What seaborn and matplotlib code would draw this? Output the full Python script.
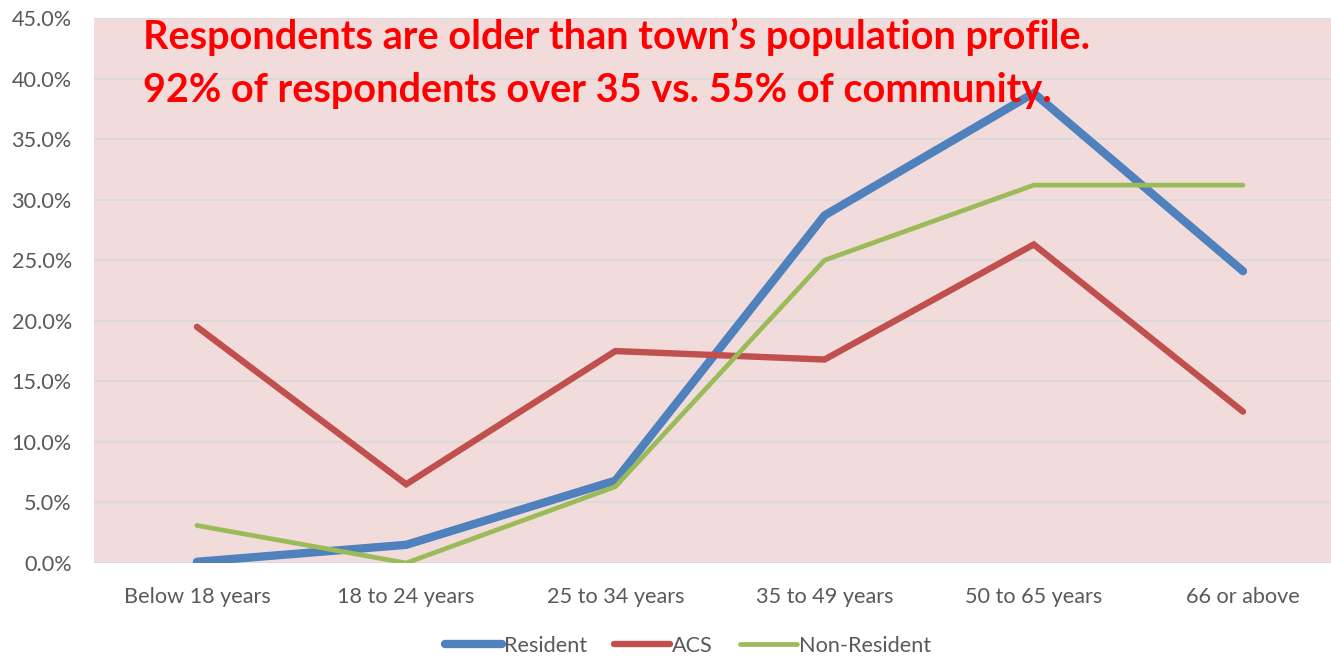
import matplotlib
matplotlib.use("Agg")
import matplotlib.pyplot as plt
import seaborn as sns
import pandas as pd
from matplotlib.ticker import FuncFormatter

categories = ["Below 18 years", "18 to 24 years", "25 to 34 years",
              "35 to 49 years", "50 to 65 years", "66 or above"]
resident = [0.1, 1.5, 6.8, 28.7, 38.8, 24.1]
acs = [19.5, 6.5, 17.5, 16.8, 26.3, 12.5]
non_resident = [3.1, 0.0, 6.3, 25.0, 31.2, 31.2]

series_names = ["Resident", "ACS", "Non-Resident"]
colors = {"Resident": "#4F81BD", "ACS": "#C0504D", "Non-Resident": "#9BBB59"}
widths = {"Resident": 6.0, "ACS": 4.6, "Non-Resident": 3.4}
order = ["Resident", "ACS", "Non-Resident"]

sns.set_theme(style="white")
plt.rcParams["font.family"] = ["Lato", "DejaVu Sans"]

rows = []
for name, vals in zip(series_names, [resident, acs, non_resident]):
    for i, (c, v) in enumerate(zip(categories, vals)):
        rows.append({"pos": i, "cat": c, "series": name, "value": v})
df = pd.DataFrame(rows)

W, H = 1331, 657
fig = plt.figure(figsize=(W / 100, H / 100), dpi=100)
ax = fig.add_axes([94 / W, (H - 563) / H, (W - 94) / W, 545 / H])
ax.set_facecolor("#F2DCDB")

for name in order:
    sub = df[df["series"] == name]
    sns.lineplot(data=sub, x="pos", y="value", ax=ax, color=colors[name],
                 linewidth=widths[name], label=name, solid_capstyle="round",
                 solid_joinstyle="miter", zorder=3)

ax.set_ylim(0, 45)
ax.set_yticks(range(0, 46, 5))
ax.yaxis.set_major_formatter(FuncFormatter(lambda v, p: f"{v:.1f}%"))
ax.set_xlim(-0.492, (W - 197) / 209.2)
ax.set_xticks(range(len(categories)))
ax.set_xticklabels(categories)
ax.set_xlabel("")
ax.set_ylabel("")
ax.grid(axis="y", color="#D9D9D9", linewidth=1.3, zorder=1)
ax.grid(axis="x", visible=False)
for s in ax.spines.values():
    s.set_visible(False)
ax.tick_params(axis="both", length=0, labelsize=15.6, colors="#595959")
ax.tick_params(axis="y", pad=16)
ax.tick_params(axis="x", pad=17)

ax.text(143 / W, 0.972, "Respondents are older than town\u2019s population profile.\n92% of respondents over 35 vs. 55% of community.",
        transform=fig.transFigure, ha="left", va="top", color="#FF0000",
        fontsize=28.5, fontweight="bold", linespacing=1.52, zorder=5)

handles, labels = ax.get_legend_handles_labels()
leg = fig.legend(handles, labels, loc="center", bbox_to_anchor=(688 / W, 1 - 646 / H),
                 ncol=3, frameon=False, fontsize=15.6, handlelength=2.6,
                 handletextpad=0.1, columnspacing=1.25, borderaxespad=0)
for t in leg.get_texts():
    t.set_color("#595959")
if ax.get_legend():
    ax.get_legend().remove()

fig.savefig("out.png", dpi=100, facecolor="white")
